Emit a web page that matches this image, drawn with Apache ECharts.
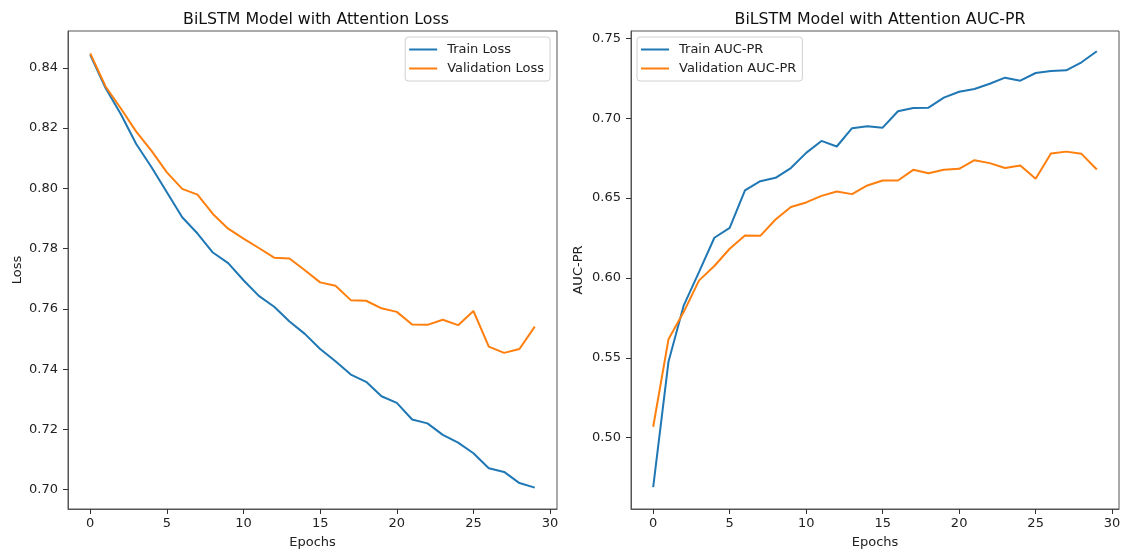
<!DOCTYPE html>
<html>
<head>
<meta charset="utf-8">
<script src="https://cdn.jsdelivr.net/npm/echarts@6/dist/echarts.min.js"></script>
<style>
  html, body { margin: 0; padding: 0; background: #fff; }
  #chart { width: 1124px; height: 554px; }
</style>
</head>
<body>
<div id="chart"></div>
<script>
// epochs 0..29
const epochs = [0,1,2,3,4,5,6,7,8,9,10,11,12,13,14,15,16,17,18,19,20,21,22,23,24,25,26,27,28,29];

const trainLoss = [0.8443,0.8333,0.8246,0.8147,0.8070,0.7987,0.7904,0.7850,0.7787,0.7752,
                   0.7695,0.7643,0.7607,0.7558,0.7517,0.7467,0.7426,0.7382,0.7358,0.7310,
                   0.7288,0.7233,0.7220,0.7182,0.7156,0.7121,0.7071,0.7059,0.7022,0.7007];
const valLoss = [0.8448,0.8338,0.8265,0.8188,0.8124,0.8053,0.7998,0.7979,0.7915,0.7866,
                 0.7833,0.7802,0.7770,0.7767,0.7728,0.7688,0.7677,0.7629,0.7627,0.7602,
                 0.7590,0.7548,0.7547,0.7564,0.7546,0.7593,0.7475,0.7454,0.7467,0.7541];

const trainAuc = [0.4691,0.5475,0.5829,0.6038,0.6252,0.6314,0.6548,0.6606,0.6627,0.6688,
                  0.6783,0.6858,0.6823,0.6938,0.6950,0.6941,0.7044,0.7064,0.7066,0.7129,
                  0.7166,0.7183,0.7216,0.7254,0.7235,0.7283,0.7296,0.7300,0.7350,0.7419];
const valAuc = [0.5069,0.5616,0.5788,0.5985,0.6075,0.6183,0.6266,0.6264,0.6366,0.6444,
                0.6473,0.6514,0.6541,0.6525,0.6579,0.6610,0.6610,0.6677,0.6656,0.6677,
                0.6683,0.6737,0.6719,0.6688,0.6704,0.6621,0.6779,0.6791,0.6777,0.6679];

const xTicks = [0, 5, 10, 15, 20, 25, 30];
const lossTicks = [0.70, 0.72, 0.74, 0.76, 0.78, 0.80, 0.82, 0.84];
const aucTicks = [0.50, 0.55, 0.60, 0.65, 0.70, 0.75];

const BLUE = '#1f77b4';
const ORANGE = '#ff7f0e';
const FONT = 'DejaVu Sans';

const pairs = (ys) => epochs.map((e, i) => [e, ys[i]]);

function xAxisFor(gridIndex) {
  return {
    type: 'value', gridIndex: gridIndex,
    min: -1.45, max: 30.45,
    name: 'Epochs', nameLocation: 'middle', nameGap: 27,
    nameTextStyle: { fontFamily: FONT, fontSize: 13, color: '#222' },
    axisLine: { show: true, onZero: false, lineStyle: { color: '#555', width: 1 } },
    axisTick: { show: true, inside: false, length: 5, customValues: xTicks, lineStyle: { color: '#333' } },
    axisLabel: { customValues: xTicks, margin: 8, fontFamily: FONT, fontSize: 13, color: '#222' },
    splitLine: { show: false }
  };
}

function yAxisFor(gridIndex, min, max, ticks, name, gap) {
  return {
    type: 'value', gridIndex: gridIndex,
    min: min, max: max,
    name: name, nameLocation: 'middle', nameGap: gap, nameRotate: 90,
    nameTextStyle: { fontFamily: FONT, fontSize: 13, color: '#222' },
    axisLine: { show: true, onZero: false, lineStyle: { color: '#555', width: 1 } },
    axisTick: { show: true, inside: false, length: 5, customValues: ticks, lineStyle: { color: '#333' } },
    axisLabel: {
      customValues: ticks, margin: 10, fontFamily: FONT, fontSize: 13, color: '#222',
      formatter: (v) => v.toFixed(2)
    },
    splitLine: { show: false }
  };
}

function lineSeries(name, data, color, axisIndex) {
  return {
    name: name, type: 'line', data: data,
    xAxisIndex: axisIndex, yAxisIndex: axisIndex,
    showSymbol: false, symbol: 'none',
    lineStyle: { color: color, width: 2 },
    itemStyle: { color: color },
    animation: false
  };
}

const legendBase = {
  orient: 'vertical', top: 37,
  itemWidth: 28, itemHeight: 2, itemGap: 6,
  icon: 'rect',
  padding: [6, 6, 6, 4],
  backgroundColor: 'rgba(255,255,255,0.8)',
  borderColor: '#d0d0d0', borderWidth: 1, borderRadius: 3,
  textStyle: { fontFamily: FONT, fontSize: 13, color: '#222', padding: [0, 0, 0, 5] }
};

const chart = echarts.init(document.getElementById('chart'));
chart.setOption({
  backgroundColor: '#fff',
  animation: false,
  title: [
    { text: 'BiLSTM Model with Attention Loss', left: 311, top: 7, textAlign: 'center',
      textStyle: { fontFamily: FONT, fontSize: 15.8, fontWeight: 'normal', color: '#111' } },
    { text: 'BiLSTM Model with Attention AUC-PR', left: 875, top: 7, textAlign: 'center',
      textStyle: { fontFamily: FONT, fontSize: 15.8, fontWeight: 'normal', color: '#111' } }
  ],
  legend: [
    Object.assign({}, legendBase, { right: 574, data: ['Train Loss', 'Validation Loss'] }),
    Object.assign({}, legendBase, { left: 637, data: ['Train AUC-PR', 'Validation AUC-PR'] })
  ],
  grid: [
    { left: 68, right: 567, top: 31, bottom: 43, show: true, borderColor: '#555', borderWidth: 1, backgroundColor: 'transparent' },
    { left: 631, right: 5, top: 31, bottom: 43, show: true, borderColor: '#555', borderWidth: 1, backgroundColor: 'transparent' }
  ],
  xAxis: [xAxisFor(0), xAxisFor(1)],
  yAxis: [
    yAxisFor(0, 0.6936, 0.8522, lossTicks, 'Loss', 44),
    yAxisFor(1, 0.4554, 0.7546, aucTicks, 'AUC-PR', 46)
  ],
  series: [
    lineSeries('Train Loss', pairs(trainLoss), BLUE, 0),
    lineSeries('Validation Loss', pairs(valLoss), ORANGE, 0),
    lineSeries('Train AUC-PR', pairs(trainAuc), BLUE, 1),
    lineSeries('Validation AUC-PR', pairs(valAuc), ORANGE, 1)
  ]
});
</script>
</body>
</html>
